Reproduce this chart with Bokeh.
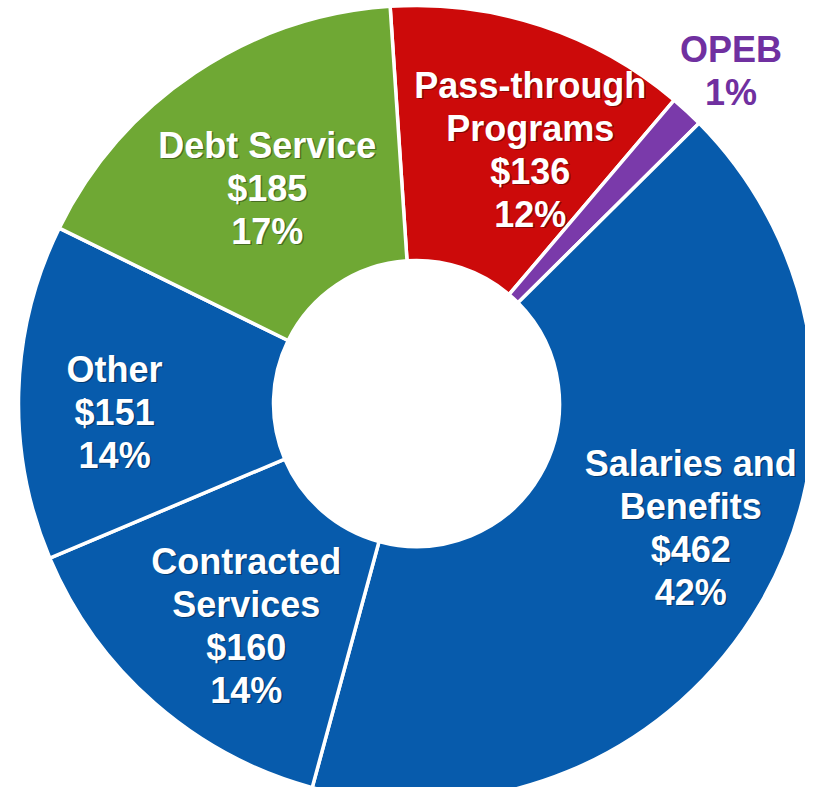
import math
from bokeh.plotting import figure
from bokeh.models import Range1d, ColumnDataSource
from bokeh.core.properties import value
from bokeh.embed import file_html
from bokeh.resources import INLINE

# ---- data ----
categories = ["Pass-through Programs", "OPEB", "Salaries and Benefits",
              "Contracted Services", "Other", "Debt Service"]
amounts = [136, 15, 462, 160, 151, 185]
name_lines = [["Pass-through", "Programs"], ["OPEB"], ["Salaries and", "Benefits"],
              ["Contracted", "Services"], ["Other"], ["Debt Service"]]
amount_labels = ["$136", None, "$462", "$160", "$151", "$185"]
pct_labels = ["12%", "1%", "42%", "14%", "14%", "17%"]

# ---- styles / layout ----
colors = ["#CC0A0A", "#7A3AAA", "#075BAC", "#075BAC", "#075BAC", "#6FA834"]
text_colors = ["white", "#7030A0", "white", "white", "white", "white"]
shadow = [True, False, True, True, True, True]
label_r = [278, 458, 301, 280, 302, 262]
label_shift = [5.9, 0.6, -5.85, -3.7, -3.3, -0.9]
START_DEG = -3.8
R_OUT, R_IN = 398, 143
LINE_H = 43
FONT = "Liberation Sans"
FSIZE = "36px"

W, H = 805, 787
CX, CY = 416, 403  # center in figure pixels (from top-left)

p = figure(width=W, height=H, output_backend="svg", toolbar_location=None,
           x_range=Range1d(-CX, W - CX), y_range=Range1d(-(H - CY), CY),
           min_border=0, outline_line_color=None)
p.axis.visible = False
p.grid.visible = False
p.background_fill_color = "white"
p.border_fill_color = "white"

total = float(sum(amounts))
th = START_DEG
starts, ends, mids = [], [], []
for a in amounts:
    span = a / total * 360.0
    starts.append(math.radians(90 - th))
    ends.append(math.radians(90 - (th + span)))
    mids.append(th + span / 2)
    th += span

src = ColumnDataSource(dict(x=[0] * len(amounts), y=[0] * len(amounts),
                            start=starts, end=ends, color=colors, cat=categories))
p.annular_wedge(x="x", y="y", inner_radius=R_IN, outer_radius=R_OUT,
                start_angle="start", end_angle="end", direction="clock",
                fill_color="color", line_color="white", line_width=3.5, source=src)

tx, ty, tt, tc, sx, sy, st = [], [], [], [], [], [], []
for i in range(len(amounts)):
    lines = list(name_lines[i])
    if amount_labels[i]:
        lines.append(amount_labels[i])
    lines.append(pct_labels[i])
    ang = math.radians(mids[i] + label_shift[i])
    cx = label_r[i] * math.sin(ang)
    cy = label_r[i] * math.cos(ang)
    n = len(lines)
    for k, s in enumerate(lines):
        yy = cy + (n - 1) / 2 * LINE_H - k * LINE_H
        tx.append(cx); ty.append(yy); tt.append(s); tc.append(text_colors[i])
        if shadow[i]:
            sx.append(cx + 1.5); sy.append(yy - 1.5); st.append(s)

p.text(x=sx, y=sy, text=st, text_color="#000000", text_alpha=0.35,
       text_font=value(FONT), text_font_style="bold", text_font_size=FSIZE,
       text_align="center", text_baseline="middle")
p.text(x=tx, y=ty, text=tt, text_color=tc,
       text_font=value(FONT), text_font_style="bold", text_font_size=FSIZE,
       text_align="center", text_baseline="middle")

open("out.html", "w").write(file_html(p, INLINE))
